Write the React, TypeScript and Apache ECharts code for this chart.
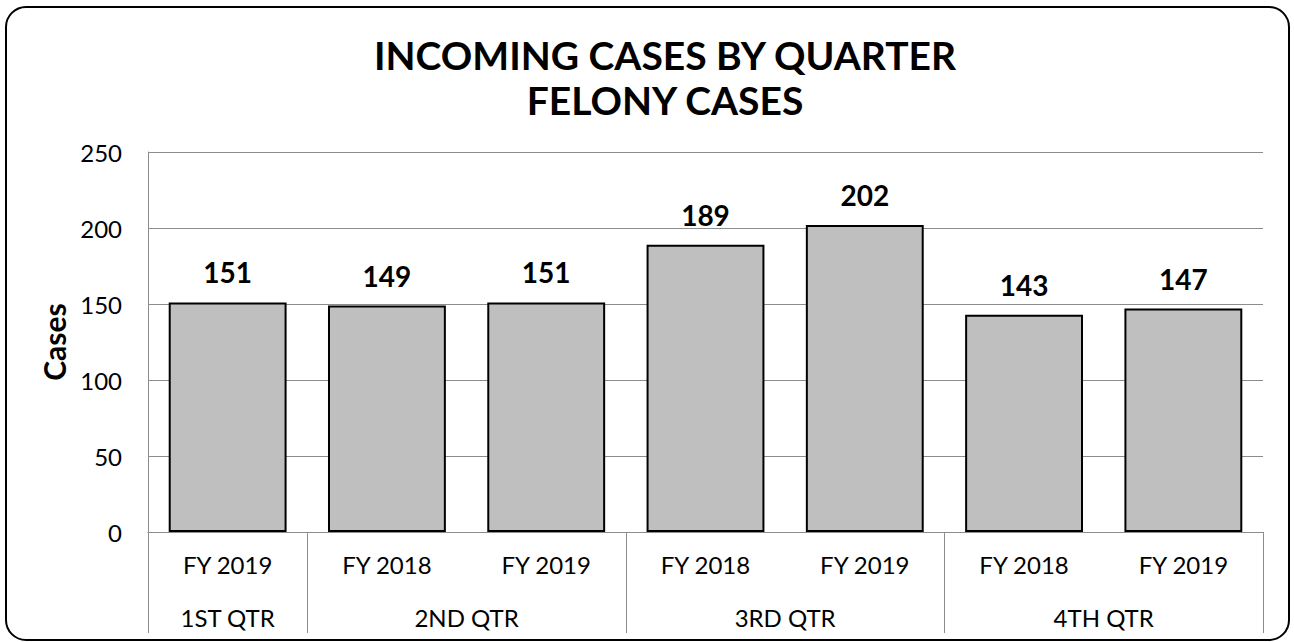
import React, { useEffect, useRef } from "react";
import * as echarts from "echarts";

const fyLabels = ["FY 2019", "FY 2018", "FY 2019", "FY 2018", "FY 2019", "FY 2018", "FY 2019"];
const caseValues = [151, 149, 151, 189, 202, 143, 147];
const quarterLabels = ["1ST QTR", "2ND QTR", "3RD QTR", "4TH QTR"];
const quarterSpans = [1, 2, 2, 2];
const yTicks = { min: 0, max: 250, interval: 50 };

const FONT = "Lato, 'DejaVu Sans', sans-serif";

export default function App() {
  const ref = useRef<HTMLDivElement>(null);

  useEffect(() => {
    if (!ref.current) return;
    const chart = echarts.init(ref.current, null, { renderer: "svg" });

    const boundaries: number[] = [0];
    const centers: number[] = [];
    let acc = 0;
    quarterSpans.forEach((s) => {
      centers.push(acc + s / 2);
      acc += s;
      boundaries.push(acc);
    });
    const total = acc;

    chart.setOption({
      animation: false,
      backgroundColor: "#ffffff",
      textStyle: { fontFamily: FONT },
      title: {
        text: "INCOMING CASES BY QUARTER\nFELONY CASES",
        left: 660,
        textAlign: "center",
        top: 27,
        textStyle: {
          fontFamily: FONT,
          fontSize: 39,
          fontWeight: "bold",
          color: "#000",
          lineHeight: 45,
        },
      },
      graphic: [
        {
          type: "rect",
          shape: { x: 6, y: 7, width: 1283, height: 633, r: 20 },
          style: { fill: "none", stroke: "#000", lineWidth: 2 },
          silent: true,
        },
      ],
      grid: { left: 148, right: 31, top: 152, bottom: 110, containLabel: false },
      xAxis: [
        {
          type: "category",
          data: fyLabels,
          axisLine: { show: true, lineStyle: { color: "#8c8c8c", width: 1 } },
          axisTick: { show: false },
          axisLabel: { color: "#000", fontSize: 24, fontFamily: FONT, margin: 20 },
        },
        {
          type: "value",
          position: "bottom",
          min: 0,
          max: total,
          axisLine: { show: false },
          splitLine: { show: false },
          axisTick: {
            show: true,
            customValues: boundaries,
            length: 101,
            lineStyle: { color: "#8c8c8c", width: 1 },
          },
          axisLabel: {
            show: true,
            customValues: centers,
            margin: 73,
            color: "#000",
            fontSize: 24,
            fontFamily: FONT,
            formatter: (v: number) => {
              const i = centers.findIndex((c) => Math.abs(c - v) < 1e-6);
              return i >= 0 ? quarterLabels[i] : "";
            },
          },
        },
      ],
      yAxis: {
        type: "value",
        min: yTicks.min,
        max: yTicks.max,
        interval: yTicks.interval,
        name: "Cases",
        nameLocation: "middle",
        nameRotate: 90,
        nameGap: 78,
        nameTextStyle: { fontFamily: FONT, fontSize: 30, fontWeight: "bold", color: "#000" },
        axisLine: { show: true, lineStyle: { color: "#8c8c8c", width: 1 } },
        axisTick: { show: false },
        splitLine: { show: true, lineStyle: { color: "#8c8c8c", width: 1 } },
        axisLabel: { color: "#000", fontSize: 24, fontFamily: FONT, margin: 26 },
      },
      series: [
        {
          type: "bar",
          xAxisIndex: 0,
          data: caseValues,
          barCategoryGap: "26%",
          itemStyle: { color: "#bfbfbf", borderColor: "#000", borderWidth: 2 },
          label: {
            show: true,
            position: "top",
            distance: 16,
            color: "#000",
            fontSize: 28,
            fontWeight: "bold",
            fontFamily: FONT,
          },
        },
      ],
    });

    return () => chart.dispose();
  }, []);

  return (
    <div
      ref={ref}
      style={{ position: "fixed", left: 0, top: 0, width: 1294, height: 642, background: "#fff" }}
    />
  );
}
